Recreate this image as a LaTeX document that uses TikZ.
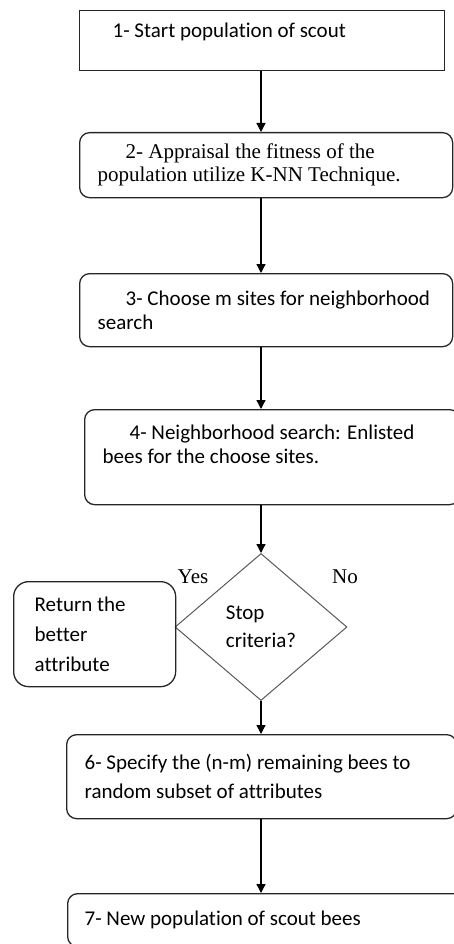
\documentclass[tikz,border=0pt]{standalone}
\usepackage{fontspec}
\setmainfont{Carlito}[Ligatures=CommonOff]
\newfontfamily\timesfont{Liberation Serif}
\usetikzlibrary{shapes.geometric,arrows.meta}

\begin{document}
\begin{tikzpicture}[
  x=1pt, y=-1pt,
  box/.style={draw=black!85, line width=1.3pt, rounded corners=10pt, anchor=north west, align=flush left, inner xsep=18pt, inner ysep=0pt},
  flow/.style={->, line width=1.3pt, >={Triangle[length=9pt,width=9pt]}},
  every node/.style={font=\fontsize{21}{24}\selectfont}
]
  \useasboundingbox (0,0) rectangle (453,944);

  \node[box, sharp corners, minimum width=365pt, minimum height=60pt, text width=329pt, text depth=20pt] (start) at (79,10) {\hspace*{15pt}1- Start population of scout};
  \node[box, minimum width=373pt, minimum height=65pt, text width=337pt, font=\timesfont\fontsize{21}{23}\selectfont] (fitness) at (79,132) {\hspace*{28pt}2- Appraisal the fitness of the\\population utilize K-NN Technique.};
  \node[box, minimum width=373pt, minimum height=73pt, text width=337pt] (sites) at (79,273) {\hspace*{28pt}3- Choose m sites for neighborhood\\search};
  \node[box, minimum width=375pt, minimum height=95pt, text width=339pt, text depth=50pt] (search) at (84,409) {\hspace*{27pt}4- Neighborhood search: Enlisted\\bees for the choose sites.};

  \node[diamond, draw=black!65, line width=1pt, minimum width=172pt, minimum height=147pt, inner sep=0pt, align=flush left, font=\fontsize{21}{28}\selectfont] (stop) at (261,627) {Stop\\criteria?};
  \node[box, rounded corners=15pt, minimum width=162pt, minimum height=105pt, text width=120pt, inner xsep=21pt, font=\fontsize{21}{30}\selectfont] (better) at (13,581) {Return the\\better\\attribute};
  \node[font=\timesfont\fontsize{21}{24}\selectfont] (yeslbl) at (193,577) {Yes};
  \node[font=\timesfont\fontsize{21}{24}\selectfont] (nolbl) at (345,577) {No};

  \node[box, minimum width=390pt, minimum height=84pt, text width=354pt, font=\fontsize{21}{29}\selectfont] (remain) at (66,734) {6- Specify the (n-m) remaining bees to\\random subset of attributes};
  \node[box, minimum width=400pt, minimum height=53pt, text width=366pt, inner xsep=17pt] (newpop) at (67,893) {7- New population of scout bees};

  \draw[flow] (start.south -| stop) -- (fitness.north -| stop);
  \draw[flow] (fitness.south -| stop) -- (sites.north -| stop);
  \draw[flow] (sites.south -| stop) -- (search.north -| stop);
  \draw[flow] (search.south -| stop) -- (stop.north);
  \draw[flow] (stop.south) -- (remain.north -| stop);
  \draw[flow] (remain.south -| stop) -- (newpop.north -| stop);
\end{tikzpicture}
\end{document}
